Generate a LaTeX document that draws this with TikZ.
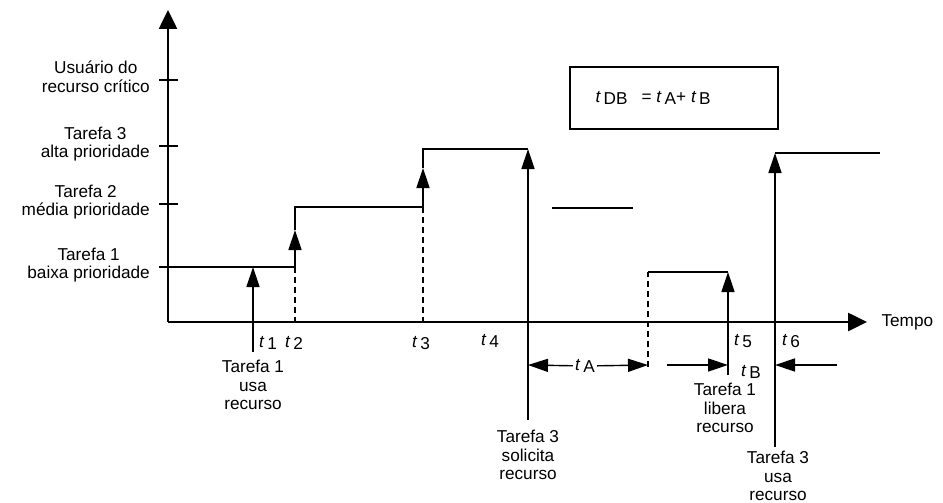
\documentclass[tikz,border=0pt]{standalone}
\usepackage{fontspec}
\setmainfont{Liberation Sans}
\usetikzlibrary{arrows.meta}
\newcommand{\tsub}[1]{\textit{t}\,\raisebox{-0.3ex}{#1}}
\begin{document}
\begin{tikzpicture}[x=1pt, y=-1pt, font=\fontsize{17.2}{18.5}\selectfont,
  axis/.style={line width=2.6pt, -{Triangle[length=19pt, width=18pt]}},
  sig/.style={line width=1.4pt},
  dsh/.style={line width=1.4pt, dash pattern=on 6pt off 4pt},
  evt/.style={line width=1.4pt, -{Triangle[length=20pt, width=13pt]}},
  lbl/.style={align=center, inner sep=0pt}]
  \useasboundingbox (0,0) rectangle (943,503);

  % Axes
  \coordinate (O) at (168,322);
  \coordinate (ytop) at (168,10);
  \coordinate (xend) at (867,322);
  \draw[axis] (O) -- (ytop);
  \draw[axis] (O) -- (xend);
  \node[anchor=west] (tempo) at (878,322) {Tempo};
  \foreach \y in {80,146,204,267}
    \draw[sig] (159,\y) -- (178,\y);

  % Levels
  \node[lbl, anchor=east] (usr) at (150,77) {Usuário do\\recurso crítico};
  \node[lbl, anchor=east] (ta3) at (150,144) {Tarefa 3\\alta prioridade};
  \node[lbl, anchor=east] (ta2) at (150,202) {Tarefa 2\\média prioridade};
  \node[lbl, anchor=east] (ta1) at (150,265) {Tarefa 1\\baixa prioridade};

  % Task timeline
  \coordinate (p0) at (168,267);
  \coordinate (p1) at (295,267);
  \coordinate (h1) at (295,230);
  \coordinate (p2) at (295,207);
  \coordinate (p3) at (423,207);
  \coordinate (h3) at (423,168);
  \coordinate (p4) at (423,149);
  \coordinate (p5) at (528,149);
  \draw[sig] (p0) -- (p1);
  \draw[evt] (p1) -- (h1);
  \draw[sig] (h1) -- (p2) -- (p3);
  \draw[evt] (p3) -- (h3);
  \draw[sig] (h3) -- (p4) -- (p5);
  \draw[dsh] (p1) -- (295,322);
  \draw[dsh] (p3) -- (423,322);

  \coordinate (m0) at (552,208);
  \coordinate (m1) at (633,208);
  \draw[sig] (m0) -- (m1);

  \coordinate (r0) at (648,367);
  \coordinate (r1) at (648,272);
  \coordinate (r2) at (728,272);
  \draw[dsh] (r0) -- (r1);
  \draw[sig] (r1) -- (r2);

  \coordinate (q0) at (775,153);
  \coordinate (q1) at (880,153);
  \draw[sig] (q0) -- (q1);

  % Events
  \node[lbl] (ev1) at (253,385) {Tarefa 1\\usa\\recurso};
  \node[lbl] (ev2) at (528,455) {Tarefa 3\\solicita\\recurso};
  \node[lbl] (ev3) at (725,408) {Tarefa 1\\libera\\recurso};
  \node[lbl] (ev4) at (778,476) {Tarefa 3\\usa\\recurso};
  \coordinate (e1) at (253,352);
  \coordinate (e2) at (528,420);
  \coordinate (e3) at (728,375);
  \coordinate (e4) at (775,447);
  \draw[evt] (e1) -- (253,267);
  \draw[evt] (e2) -- (p5);
  \draw[evt] (e3) -- (r2);
  \draw[evt] (e4) -- (q0);

  % Time marks
  \node[anchor=base west, inner sep=0pt] (t1) at (259,347) {\tsub{1}};
  \node[anchor=base west, inner sep=0pt] (t2) at (285,347) {\tsub{2}};
  \node[anchor=base west, inner sep=0pt] (t3) at (412,347) {\tsub{3}};
  \node[anchor=base west, inner sep=0pt] (t4) at (481,345) {\tsub{4}};
  \node[anchor=base west, inner sep=0pt] (t5) at (734,345) {\tsub{5}};
  \node[anchor=base west, inner sep=0pt] (t6) at (782,345) {\tsub{6}};

  % Intervals
  \node[inner sep=2pt] (tA) at (585,366) {\tsub{A}};
  \coordinate (a0) at (528,365);
  \coordinate (a1) at (648,365);
  \draw[evt] (tA) -- (a0);
  \draw[evt] (tA) -- (a1);
  \node[anchor=base west, inner sep=0pt] (tB) at (741,376) {\tsub{B}};
  \coordinate (b0) at (667,365);
  \coordinate (b1) at (837,365);
  \draw[evt] (b0) -- (e3 |- b0);
  \draw[evt] (b1) -- (e4 |- b1);

  % Blocking time
  \node[draw, line width=1.4pt, minimum width=208pt, minimum height=62pt] (box) at (674,98) {};
  \node[anchor=west, inner sep=0pt] (eq) at ([xshift=26pt]box.west)
    {\tsub{DB}\hspace{14pt}= \tsub{A}+ \tsub{B}};
\end{tikzpicture}
\end{document}
